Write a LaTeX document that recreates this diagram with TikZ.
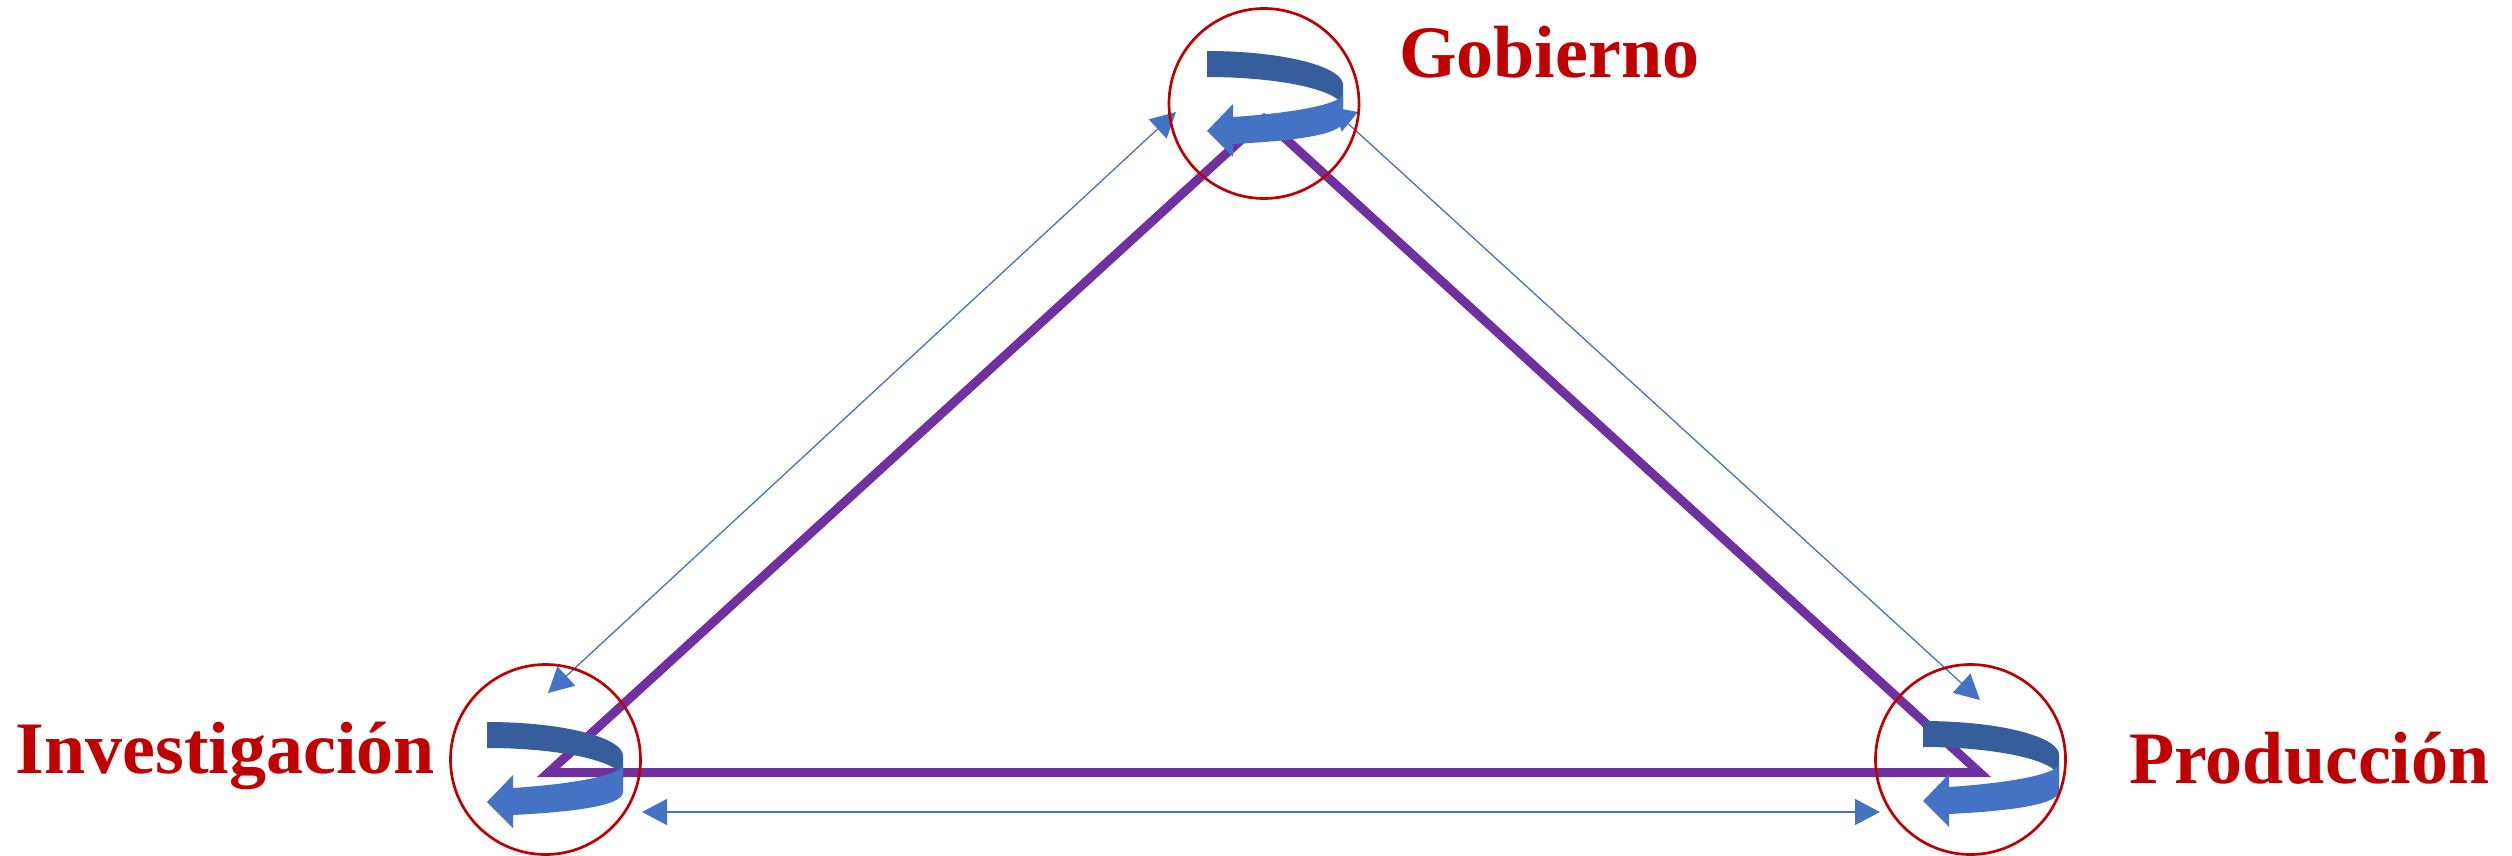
\documentclass[tikz,border=0pt]{standalone}
\usepackage{fontspec}
\setmainfont{Liberation Serif}
\usetikzlibrary{arrows.meta}
\definecolor{ringred}{RGB}{192,0,0}
\definecolor{tripurple}{RGB}{112,48,160}
\definecolor{flowblue}{RGB}{68,114,196}
\definecolor{backblue}{RGB}{54,94,156}
\tikzset{
  hub/.style={circle, draw=ringred, line width=2.7pt, minimum size=190pt, inner sep=0pt},
  actor/.style={text=ringred, font=\fontsize{74}{80}\selectfont\bfseries, inner sep=0pt, anchor=base west},
  triline/.style={draw=tripurple, line width=9pt, line join=miter},
  link/.style={draw=flowblue, line width=1.3pt, >={Triangle[length=25pt,width=26pt]}},
  cycle arrow/.pic={
    % back face of the ribbon
    \fill[backblue] plot[domain=-90:0, samples=40] ({136*cos(\x)}, {34+34*sin(\x)})
      -- plot[domain=0:-90, samples=40] ({136*cos(\x)}, {57+31*sin(\x)}) -- cycle;
    % front face with the arrow head
    \fill[flowblue] (136,44) .. controls (130,54) and (85,62) .. (26,66)
      -- (26,53) -- (0,80) -- (26,106) -- (26,93)
      .. controls (85,90) and (136,84) .. (136,70) -- cycle;
  }
}
\begin{document}
\begin{tikzpicture}[x=1pt, y=-1pt]
  \useasboundingbox (0,0) rectangle (2512,855);

  % corners of the triangle
  \coordinate (tI) at (548.5,772.5);
  \coordinate (tG) at (1264,119);
  \coordinate (tP) at (1979.5,772.5);
  \draw[triline] (tI) -- (tG) -- (tP) -- cycle;

  % self-reinforcing loops in each sphere
  \pic (cg) at (1207,51) {cycle arrow};
  \pic (ci) at (487,722) {cycle arrow};
  \pic (cp) at (1923,721) {cycle arrow};

  % exchange arrows between the spheres
  \coordinate (gL) at (1176,112);
  \coordinate (iT) at (548,693);
  \coordinate (gR) at (1358,112);
  \coordinate (gRb) at (1343,119);
  \coordinate (pT) at (1980,700);
  \coordinate (iB) at (642,812);
  \coordinate (pB) at (1880,812);
  \draw[link, <->] (iT) -- (gL);
  \draw[link, <-] (pT) -- (gRb);
  \fill[flowblue] (gR) -- (1341.7,131.7) -- (1332.9,107.3) -- cycle;
  \draw[link, <->] (iB) -- (pB);

  % the three spheres
  \node[hub] (gob) at (1264,103.5) {};
  \node[hub] (inv) at (545.5,759.5) {};
  \node[hub] (pro) at (1970.5,759.5) {};

  % labels
  \node[actor] (lgob) at (1399,77) {Gobierno};
  \node[actor] (linv) at (15.5,773) {Investigación};
  \node[actor] (lpro) at (2129,783) {Producción};
\end{tikzpicture}
\end{document}
